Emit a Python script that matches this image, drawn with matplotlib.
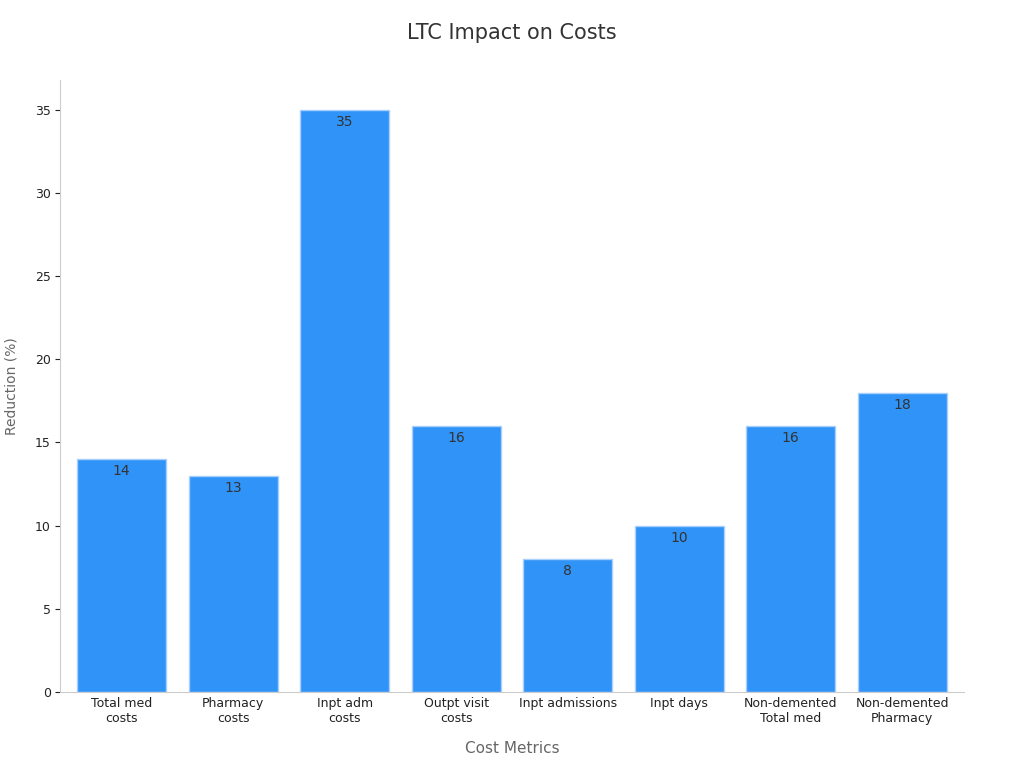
import matplotlib
matplotlib.use("Agg")
import matplotlib.pyplot as plt
import numpy as np

categories = ["Total med\ncosts", "Pharmacy\ncosts", "Inpt adm\ncosts", "Outpt visit\ncosts",
              "Inpt admissions", "Inpt days", "Non-demented\nTotal med", "Non-demented\nPharmacy"]
values = [14, 13, 35, 16, 8, 10, 16, 18]
yticks = [0, 5, 10, 15, 20, 25, 30, 35]

plt.rcParams["font.family"] = "DejaVu Sans"
fig = plt.figure(figsize=(10.24, 7.68), dpi=100)
ax = fig.add_axes([0.059, 0.099, 0.882, 0.797])

x = np.arange(len(categories))
ax.bar(x, values, 0.8, color="#2f93f8", edgecolor="#a8d0fb", linewidth=1)
for xi, v in zip(x, values):
    ax.text(xi, v - 0.3, str(v), ha="center", va="top", fontsize=10, color="#333333")

ax.set_xlim(-0.55, 7.55)
ax.set_ylim(0, 36.8)
ax.set_xticks(x, categories)
ax.set_yticks(yticks)
ax.tick_params(labelsize=9, colors="#222222")
ax.tick_params(axis="x", length=0)
for s in ["top", "right"]:
    ax.spines[s].set_visible(False)
ax.spines["left"].set_color("#cccccc")
ax.spines["bottom"].set_color("#cccccc")
ax.set_xlabel("Cost Metrics", fontsize=11, color="#666666", labelpad=12)
ax.set_ylabel("Reduction (%)", fontsize=10, color="#666666", labelpad=12)
fig.suptitle("LTC Impact on Costs", fontsize=15, color="#333333", y=0.97)

plt.savefig("out.png")
